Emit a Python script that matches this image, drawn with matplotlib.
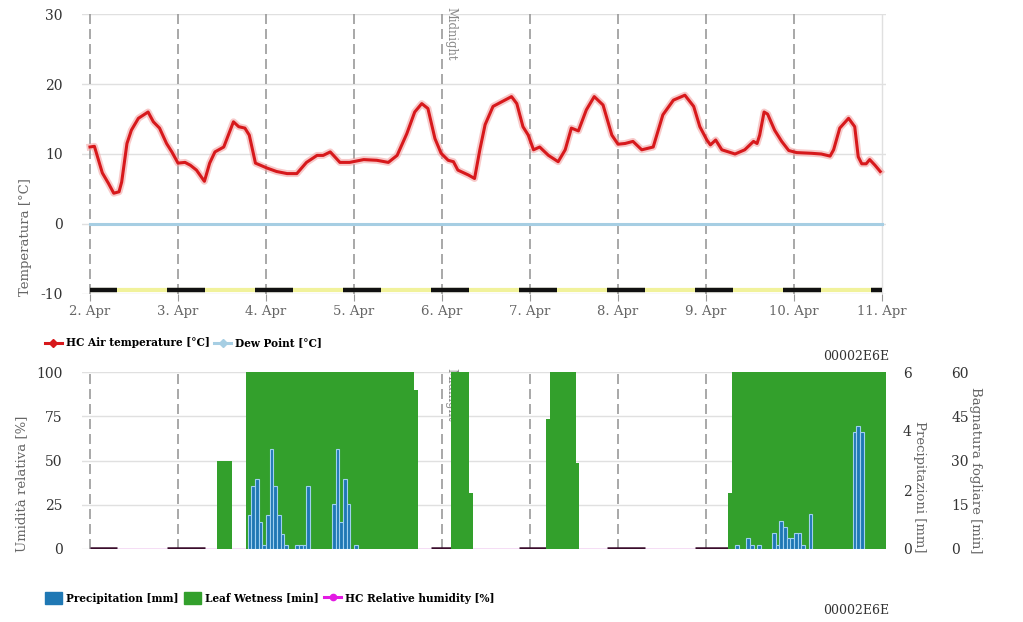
import matplotlib
matplotlib.use('Agg')
import matplotlib.pyplot as plt
import matplotlib.transforms as mtransforms
from matplotlib.lines import Line2D
from matplotlib.patches import Patch

plt.rcParams['font.family'] = ['DejaVu Serif']
plt.rcParams['axes.unicode_minus'] = False

# x axis: days since 2 Apr 00:00
day_labels = ['2. Apr', '3. Apr', '4. Apr', '5. Apr', '6. Apr',
              '7. Apr', '8. Apr', '9. Apr', '10. Apr', '11. Apr']

# air temperature
temp_day = [0.00, 0.05, 0.14, 0.21, 0.27, 0.33, 0.36, 0.42, 0.47, 0.55, 0.66, 0.72,
            0.79, 0.87, 0.93, 1.00, 1.08, 1.14, 1.21, 1.30, 1.36, 1.42, 1.52, 1.63,
            1.69, 1.76, 1.81, 1.88, 2.01, 2.12, 2.24, 2.35, 2.46, 2.58, 2.65, 2.73,
            2.84, 2.95, 3.11, 3.26, 3.39, 3.49, 3.60, 3.69, 3.77, 3.84, 3.92, 3.99,
            4.07, 4.13, 4.18, 4.30, 4.37, 4.43, 4.49, 4.58, 4.79, 4.85, 4.92, 4.98,
            5.04, 5.11, 5.21, 5.32, 5.40, 5.47, 5.55, 5.64, 5.73, 5.83, 5.93, 6.00,
            6.08, 6.17, 6.27, 6.40, 6.51, 6.63, 6.76, 6.86, 6.93, 7.01, 7.05, 7.11,
            7.18, 7.33, 7.44, 7.54, 7.58, 7.61, 7.66, 7.70, 7.78, 7.86, 7.94, 8.03,
            8.20, 8.31, 8.41, 8.45, 8.52, 8.62, 8.69, 8.73, 8.77, 8.82, 8.86, 8.92, 8.98]
temp_val = [11.0, 11.1, 7.3, 5.8, 4.4, 4.6, 6.0, 11.5, 13.4, 15.1, 16.0, 14.6,
            13.7, 11.5, 10.3, 8.7, 8.8, 8.4, 7.7, 6.1, 8.7, 10.3, 11.0, 14.6,
            13.9, 13.7, 12.7, 8.7, 8.0, 7.5, 7.2, 7.2, 8.8, 9.8, 9.8, 10.3,
            8.8, 8.8, 9.2, 9.1, 8.8, 9.8, 12.9, 16.0, 17.2, 16.5, 12.2, 10.1,
            9.1, 8.9, 7.7, 7.0, 6.5, 10.6, 14.2, 16.8, 18.2, 17.2, 13.9, 12.7,
            10.6, 11.0, 9.8, 8.9, 10.6, 13.7, 13.3, 16.3, 18.2, 17.0, 12.7, 11.4,
            11.5, 11.8, 10.6, 11.0, 15.6, 17.7, 18.4, 16.8, 13.9, 12.0, 11.3, 12.0,
            10.6, 10.0, 10.6, 11.8, 11.5, 12.7, 16.0, 15.7, 13.4, 11.8, 10.5, 10.2,
            10.1, 10.0, 9.7, 10.6, 13.7, 15.1, 13.9, 9.6, 8.6, 8.6, 9.2, 8.4, 7.5]

dew_day = [0.0, 9.0]
dew_val = [0.0, 0.0]

# night periods
night_start = [0.0, 0.88, 1.88, 2.88, 3.88, 4.88, 5.88, 6.88, 7.88, 8.88]
night_end = [0.31, 1.31, 2.31, 3.31, 4.31, 5.31, 6.31, 7.31, 8.31, 9.0]

# leaf wetness [min] as (start day, end day, value)
leaf_start = [1.44, 1.77, 3.68, 4.10, 4.31, 5.18, 5.23, 5.52, 7.25, 7.30]
leaf_end = [1.61, 3.68, 3.73, 4.31, 4.35, 5.23, 5.52, 5.56, 7.30, 9.05]
leaf_val = [30, 60, 54, 60, 19, 44, 60, 29, 19, 60]

# precipitation [mm], hour since 2 Apr 00:00
precip_hour = [43, 44, 45, 46, 47, 48, 49, 50, 51, 52, 53, 56, 57, 58, 59,
               66, 67, 68, 69, 70, 72,
               176, 179, 180, 182, 186, 187, 188, 189, 190, 191, 192, 193, 194, 196,
               208, 209, 210]
precip_mm = [1.15, 2.15, 2.38, 0.93, 0.14, 1.15, 3.38, 2.15, 1.15, 0.51, 0.14, 0.14, 0.14, 0.14, 2.15,
             1.53, 3.38, 0.93, 2.38, 1.53, 0.14,
             0.15, 0.36, 0.15, 0.15, 0.55, 0.15, 0.94, 0.74, 0.36, 0.36, 0.55, 0.55, 0.15, 1.17,
             3.97, 4.18, 3.97]

humid_day = [0.0, 9.0]
humid_val = [0.0, 0.0]

RED = '#d7191c'
DEW = '#a6cee3'
GREEN = '#33a02c'
BLUE = '#1f78b4'
MAG = '#e31ae3'
GRID = '#e0e0e0'
LBL = '#666666'

fig = plt.figure(figsize=(10.23, 6.22), dpi=100)
W, H = 1023, 622
x0, x1 = 82, 886
xlim = ((x0 - 90) / 88, (x1 - 90) / 88)

ax_t = fig.add_axes([x0 / W, 1 - 294 / H, (x1 - x0) / W, 280 / H])
ax_b = fig.add_axes([x0 / W, 1 - 549 / H, (x1 - x0) / W, 177 / H])


def style_axes(ax):
    for s in ax.spines.values():
        s.set_visible(False)
    ax.set_xlim(*xlim)
    ax.set_xticks(range(len(day_labels)))
    ax.set_xticklabels(day_labels)
    ax.tick_params(axis='x', length=5, color='#999999', labelcolor=LBL, labelsize=9.5, pad=3)
    ax.tick_params(axis='y', length=0, labelcolor='#333333', labelsize=10, pad=14)
    ax.grid(axis='y', color=GRID, lw=1)
    ax.set_axisbelow(True)
    for d in range(len(day_labels) - 1):
        ax.axvline(d, color='#999999', lw=1.2, ls=(0, (6, 3)), zorder=1)
    ax.axvline(len(day_labels) - 1, color=GRID, lw=1, zorder=1)
    trans = mtransforms.blended_transform_factory(ax.transData, ax.transAxes)
    ax.text(4.03, 1.025, 'Midnight', transform=trans, rotation=270, ha='left', va='top',
            fontsize=8.3, color='#888888', zorder=10)


# ---- top chart: temperature
style_axes(ax_t)
ax_t.set_ylim(-10, 30)
ax_t.set_yticks([-10, 0, 10, 20, 30])
ax_t.plot(dew_day, dew_val, color=DEW, lw=2.2, zorder=3)
ax_t.plot(temp_day, temp_val, color='#f3a5a5', lw=5, alpha=0.6, zorder=3)
ax_t.plot(temp_day, temp_val, color=RED, lw=2.2, zorder=4)
ax_t.plot([0, 9], [-9.5, -9.5], color='#f1f29b', lw=3, solid_capstyle='butt', zorder=3)
for s, e in zip(night_start, night_end):
    ax_t.plot([s, e], [-9.5, -9.5], color='#111111', lw=3.2, solid_capstyle='butt', zorder=4)
ax_t.set_ylabel('Temperatura [°C]', color=LBL, fontsize=9.5)
ax_t.yaxis.set_label_coords((32 - x0) / (x1 - x0), 0.204)

# ---- bottom chart: humidity, leaf wetness, precipitation
style_axes(ax_b)
ax_b.set_ylim(0, 100)
ax_b.set_yticks([0, 25, 50, 75, 100])
ax_b.plot(humid_day, humid_val, color=MAG, lw=1, alpha=0.6, zorder=3)
for s, e in zip(night_start, night_end):
    ax_b.plot([s, e], [0.6, 0.6], color='#3a0d2c', lw=1.8, solid_capstyle='butt', zorder=3)
ax_b.set_ylabel('Umidità relativa [%]', color=LBL, fontsize=9.5)
ax_b.yaxis.set_label_coords((28 - x0) / (x1 - x0), 0.367)

ax_leaf = ax_b.twinx()
ax_leaf.set_xlim(*xlim)
ax_leaf.set_ylim(0, 60)
ax_leaf.set_yticks([0, 15, 30, 45, 60])
ax_leaf.bar(leaf_start, leaf_val, width=[e - s for s, e in zip(leaf_start, leaf_end)],
            align='edge', color=GREEN, lw=0)
ax_leaf.tick_params(axis='y', length=0, labelcolor='#333333', labelsize=10, pad=47)
ax_leaf.set_ylabel('Bagnatura fogliare [min]', color=LBL, fontsize=9.5, rotation=270)
ax_leaf.yaxis.set_label_coords((982 - x0) / (x1 - x0), 0.446)

ax_prec = ax_b.twinx()
ax_prec.set_xlim(*xlim)
ax_prec.set_ylim(0, 6)
ax_prec.set_yticks([0, 2, 4, 6])
ax_prec.bar([h / 24 for h in precip_hour], precip_mm, width=1 / 24, align='edge',
            color=BLUE, edgecolor='#9fd0ef', lw=0.8)
ax_prec.tick_params(axis='y', length=0, labelcolor='#333333', labelsize=10, pad=12)
ax_prec.set_ylabel('Precipitazioni [mm]', color=LBL, fontsize=9.5, rotation=270)
ax_prec.yaxis.set_label_coords((926 - x0) / (x1 - x0), 0.35)
for a in (ax_leaf, ax_prec):
    for s in a.spines.values():
        s.set_visible(False)
    a.set_xticks([])

# ---- legends
leg_font = {'weight': 'bold', 'size': 7.6}
h_top = [Line2D([], [], color=RED, lw=2.2, marker='D', ms=4.5, label='HC Air temperature [°C]'),
         Line2D([], [], color=DEW, lw=2.2, marker='D', ms=4.5, label='Dew Point [°C]')]
fig.legend(handles=h_top, loc='center left', bbox_to_anchor=(45 / W, 1 - 343 / H), ncol=2,
           frameon=False, prop=leg_font, handlelength=1.6, handletextpad=0.4,
           columnspacing=0.4, borderaxespad=0, borderpad=0)
h_bot = [Patch(color=BLUE, label='Precipitation [mm]'),
         Patch(color=GREEN, label='Leaf Wetness [min]'),
         Line2D([], [], color=MAG, lw=2.2, marker='o', ms=4.5, label='HC Relative humidity [%]')]
fig.legend(handles=h_bot, loc='center left', bbox_to_anchor=(45 / W, 1 - 598 / H), ncol=3,
           frameon=False, prop=leg_font, handlelength=1.6, handleheight=1.3, handletextpad=0.4,
           columnspacing=0.5, borderaxespad=0, borderpad=0)

# ---- chart ids (the top one is cut by the image edge, as in the source)
for py in (-3, 356, 611):
    fig.text(889 / W, 1 - py / H, '00002E6E', ha='right', va='center', fontsize=9, color='#333333')

fig.savefig('out.png', dpi=100)
